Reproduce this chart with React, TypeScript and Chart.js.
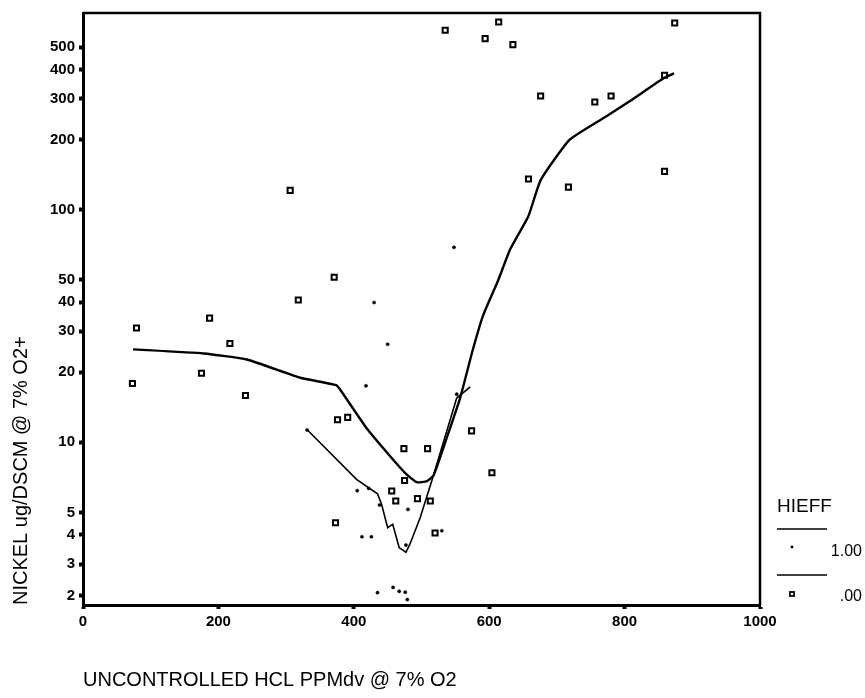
import React, { useEffect, useRef } from 'react';
import { Chart, registerables } from 'chart.js';

Chart.register(...registerables);

// ---- data ----
const xTicks = [0, 200, 400, 600, 800, 1000];
// the lowest tick in the original is drawn slightly above the axis floor
const yTickPositions = [2.2, 3, 4, 5, 10, 20, 30, 40, 50, 100, 200, 300, 400, 500];
const yTickLabels = ['2', '3', '4', '5', '10', '20', '30', '40', '50', '100', '200', '300', '400', '500'];

// HIEFF = .00 (open squares)
const hieff0X = [79, 73, 187, 217, 175, 240, 318, 306, 371, 658, 717, 535, 614, 594, 635, 874, 859, 676, 756, 780, 859, 376, 391, 574, 474, 509, 604, 475, 456, 462, 494, 513, 373, 520];
const hieff0Y = [31.0, 17.9, 34.2, 26.6, 19.8, 15.9, 40.9, 121, 51.2, 135.5, 125, 590, 640, 543, 512, 634, 378, 308, 290, 308, 146, 12.5, 12.8, 11.2, 9.4, 9.4, 7.4, 6.86, 6.18, 5.6, 5.73, 5.6, 4.51, 4.08];

// HIEFF = 1.00 (small dots)
const hieff1X = [548, 430, 450, 418, 552, 331, 405, 422, 438, 480, 530, 412, 426, 477, 435, 458, 467, 476, 479];
const hieff1Y = [68.9, 39.9, 26.4, 17.5, 16.1, 11.3, 6.2, 6.34, 5.38, 5.15, 4.17, 3.93, 3.93, 3.62, 2.26, 2.38, 2.29, 2.27, 2.11];

// smoothed fit lines
const fit0X = [74, 178, 242, 321, 374, 382, 419, 454, 478, 493, 508, 518, 537, 557, 575, 591, 613, 631, 658, 676, 719, 776, 808, 857, 873];
const fit0Y = [25.1, 24.1, 22.7, 18.95, 17.6, 16.5, 11.5, 8.7, 7.28, 6.74, 6.81, 7.23, 10.4, 15.5, 24.5, 35.1, 49.5, 67.6, 94, 134, 200, 255, 293, 366, 385];

const fit1X = [331.5, 404, 435, 441, 450, 457.5, 467, 477, 483, 498, 515, 537, 552, 572];
const fit1Y = [11.3, 6.93, 6.01, 5.42, 4.3, 4.45, 3.53, 3.37, 3.66, 4.74, 6.81, 11.1, 15.5, 17.3];

const legendTitle = 'HIEFF';
const legendLabels = ['1.00', '.00'];
const xTitle = 'UNCONTROLLED HCL PPMdv @ 7% O2';
const yTitle = 'NICKEL ug/DSCM @ 7% O2+';

const FONT = "'Liberation Sans', Arial, sans-serif";

const zip = (xs: number[], ys: number[]) => xs.map((x, i) => ({ x, y: ys[i] }));

const framePlugin = {
  id: 'frame',
  afterDraw(chart: any) {
    const { ctx, chartArea } = chart;
    ctx.save();
    ctx.strokeStyle = '#000';
    ctx.lineWidth = 2.5;
    ctx.beginPath();
    ctx.moveTo(chartArea.left, chartArea.top);
    ctx.lineTo(chartArea.right, chartArea.top);
    ctx.lineTo(chartArea.right, chartArea.bottom);
    ctx.stroke();
    ctx.restore();
  },
};

const legendPlugin = {
  id: 'customLegend',
  afterDraw(chart: any) {
    const { ctx, chartArea } = chart;
    const x0 = chartArea.right + 17;
    const rightEdge = chartArea.right + 102;
    ctx.save();
    ctx.fillStyle = '#000';
    ctx.strokeStyle = '#000';
    ctx.font = `19px ${FONT}`;
    ctx.textBaseline = 'alphabetic';
    ctx.textAlign = 'left';
    ctx.fillText(legendTitle, x0, 512);
    ctx.lineWidth = 1.5;
    ctx.beginPath();
    ctx.moveTo(x0, 529);
    ctx.lineTo(x0 + 50, 529);
    ctx.moveTo(x0, 575);
    ctx.lineTo(x0 + 50, 575);
    ctx.stroke();
    // dot marker
    ctx.beginPath();
    ctx.arc(x0 + 15, 547, 1.4, 0, Math.PI * 2);
    ctx.fill();
    // square marker
    ctx.lineWidth = 1.8;
    ctx.fillStyle = '#fff';
    ctx.fillRect(x0 + 13, 592, 4, 4);
    ctx.strokeRect(x0 + 13, 592, 4, 4);
    ctx.fillStyle = '#000';
    ctx.font = `16px ${FONT}`;
    ctx.textAlign = 'right';
    ctx.textBaseline = 'middle';
    ctx.fillText(legendLabels[0], rightEdge, 552);
    ctx.fillText(legendLabels[1], rightEdge, 597);
    ctx.restore();
  },
};

export default function App() {
  const ref = useRef<HTMLCanvasElement | null>(null);

  useEffect(() => {
    if (!ref.current) return;
    const chart = new Chart(ref.current, {
      type: 'scatter',
      data: {
        datasets: [
          {
            label: 'fit .00',
            data: zip(fit0X, fit0Y),
            showLine: true,
            borderColor: '#000',
            borderWidth: 2.4,
            pointRadius: 0,
            tension: 0.15,
          },
          {
            label: 'fit 1.00',
            data: zip(fit1X, fit1Y),
            showLine: true,
            borderColor: '#000',
            borderWidth: 1.6,
            pointRadius: 0,
            tension: 0,
          },
          {
            label: '.00',
            data: zip(hieff0X, hieff0Y),
            pointStyle: 'rect',
            pointRadius: 3.6,
            borderColor: '#000',
            backgroundColor: '#fff',
            borderWidth: 2,
          },
          {
            label: '1.00',
            data: zip(hieff1X, hieff1Y),
            pointStyle: 'circle',
            pointRadius: 1.6,
            borderColor: '#000',
            backgroundColor: '#000',
            borderWidth: 0.5,
          },
        ],
      } as any,
      options: {
        responsive: false,
        animation: false,
        devicePixelRatio: 1,
        layout: { padding: { top: 9, right: 105, bottom: 0, left: 0 } },
        plugins: { legend: { display: false }, tooltip: { enabled: false } },
        scales: {
          x: {
            type: 'linear',
            min: 0,
            max: 1000,
            afterBuildTicks: (scale: any) => {
              scale.ticks = xTicks.map((v) => ({ value: v }));
            },
            afterFit: (scale: any) => {
              scale.height = 93;
            },
            ticks: {
              autoSkip: false,
              maxRotation: 0,
              padding: 4,
              color: '#000',
              font: { family: FONT, size: 15, weight: 'bold' },
              callback: (v: any) => String(v),
            },
            grid: { drawOnChartArea: false, drawTicks: true, tickLength: 4, tickWidth: 4, tickColor: '#000' },
            border: { display: true, color: '#000', width: 3 },
            title: {
              display: true,
              text: xTitle,
              align: 'start',
              color: '#000',
              font: { family: FONT, size: 20, weight: 'normal' },
              padding: { top: 0, bottom: 6 },
            },
          },
          y: {
            type: 'logarithmic',
            min: 2,
            max: 700,
            afterBuildTicks: (scale: any) => {
              scale.ticks = yTickPositions.map((v) => ({ value: v }));
            },
            afterFit: (scale: any) => {
              scale.width = 83;
            },
            ticks: {
              autoSkip: false,
              padding: 4,
              color: '#000',
              font: { family: FONT, size: 15, weight: 'bold' },
              callback: (_v: any, i: number) => yTickLabels[i],
            },
            grid: { drawOnChartArea: false, drawTicks: true, tickLength: 4, tickWidth: 4, tickColor: '#000' },
            border: { display: true, color: '#000', width: 3 },
            title: {
              display: true,
              text: yTitle,
              align: 'start',
              color: '#000',
              font: { family: FONT, size: 20, weight: 'normal' },
              padding: { top: 9, bottom: 0 },
            },
          },
        },
      } as any,
      plugins: [framePlugin, legendPlugin],
    });
    return () => chart.destroy();
  }, []);

  return (
    <div style={{ position: 'absolute', left: 0, top: 0, width: 865, height: 698, background: '#fff' }}>
      <canvas ref={ref} width={865} height={698} style={{ display: 'block' }} />
    </div>
  );
}
